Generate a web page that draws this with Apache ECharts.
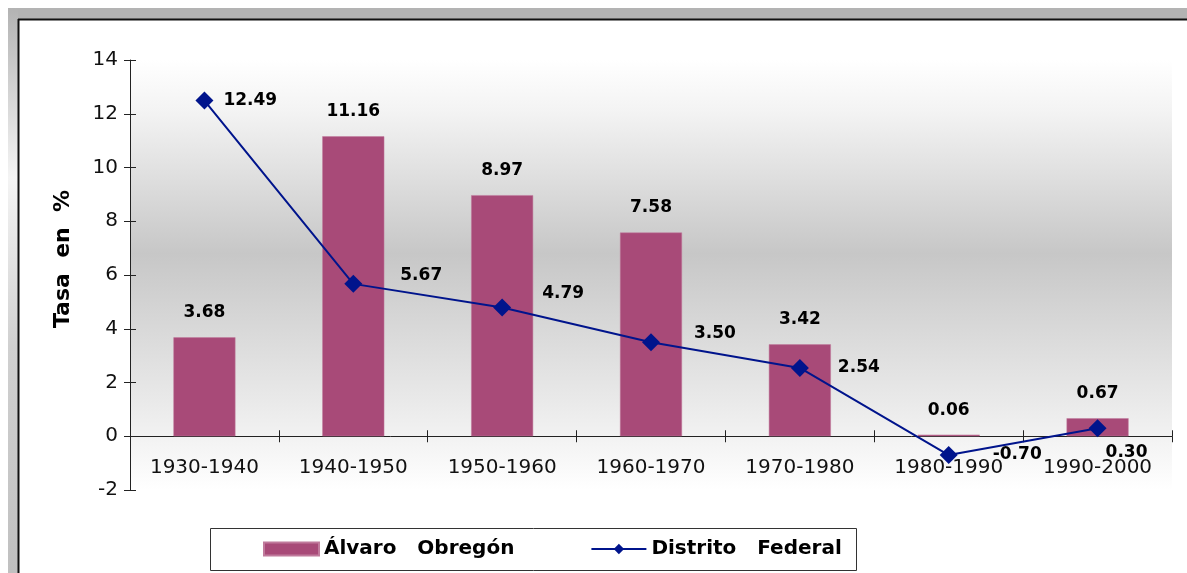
<!DOCTYPE html>
<html>
<head>
<meta charset="utf-8">
<script src="https://cdn.jsdelivr.net/npm/echarts@6/dist/echarts.min.js"></script>
<style>
html,body{margin:0;padding:0;background:#fff;}
#chart{width:1187px;height:573px;}
</style>
</head>
<body>
<div id="chart"></div>
<script>
const categories = ['1930-1940','1940-1950','1950-1960','1960-1970','1970-1980','1980-1990','1990-2000'];
const alvaroObregon = [3.68, 11.16, 8.97, 7.58, 3.42, 0.06, 0.67];
const distritoFederal = [12.49, 5.67, 4.79, 3.50, 2.54, -0.70, 0.30];
const yTicks = {min: -2, max: 14, interval: 2};

// label offsets (styling only) for the line labels
const lineLabelOffsets = [[0,0],[28,-8],[21,-14],[24,-9],[19,0],[25,0],[-11,24]];

const FONT = '"DejaVu Sans", sans-serif';
const chart = echarts.init(document.getElementById('chart'), null, {renderer:'canvas'});

const lineData = distritoFederal.map((v,i)=>({
  value: v,
  label: {offset: lineLabelOffsets[i]}
}));

// pixel distance from grid bottom up to the zero line (grid height 430, range 16)
const zeroOffset = -(0 - yTicks.min) / (yTicks.max - yTicks.min) * 430;

const option = {
  backgroundColor: '#ffffff',
  animation: false,
  graphic: [
    {type:'rect', shape:{x:8,y:8,width:1179,height:11}, style:{fill:'#b3b3b3'}, silent:true, z:0},
    {type:'rect', shape:{x:8,y:8,width:10,height:565}, style:{fill:{type:'linear',x:0,y:0,x2:0,y2:1,colorStops:[
      {offset:0,color:'#b3b3b3'},{offset:0.3,color:'#f4f4f4'},{offset:0.6,color:'#d0d0d0'},{offset:1,color:'#c0c0c0'}]}}, silent:true, z:0},
    {type:'line', shape:{x1:18,y1:19.5,x2:1187,y2:19.5}, style:{stroke:'#111',lineWidth:2}, silent:true, z:1},
    {type:'line', shape:{x1:18.5,y1:19,x2:18.5,y2:573}, style:{stroke:'#111',lineWidth:2}, silent:true, z:1},
    {type:'rect', shape:{x:210.5,y:528.5,width:646,height:42}, style:{fill:'#ffffff',stroke:'#333',lineWidth:1}, silent:true, z:1}
  ],
  grid: {
    left: 130, right: 15, top: 60, bottom: 83,
    show: true,
    borderWidth: 0,
    backgroundColor: {type:'linear',x:0,y:0,x2:0,y2:1,colorStops:[
      {offset:0,color:'#ffffff'},
      {offset:0.12,color:'#f3f3f3'},
      {offset:0.45,color:'#c7c7c7'},
      {offset:0.8,color:'#eaeaea'},
      {offset:1,color:'#ffffff'}
    ]}
  },
  legend: {
    left: 263, top: 539,
    padding: 0,
    itemWidth: 55, itemHeight: 13,
    itemGap: 76,
    textStyle: {fontFamily: FONT, fontSize: 20, fontWeight: 'bold', color:'#000'},
    data: [
      {name:'Álvaro   Obregón', icon:'rect', itemStyle:{color:'#A84A78'}},
      {name:'Distrito   Federal'}
    ]
  },
  xAxis: [{
    type: 'category',
    data: categories,
    boundaryGap: true,
    position: 'bottom',
    offset: zeroOffset,
    axisLine: {show:true, onZero:false, lineStyle:{color:'#222', width:1}},
    axisTick: {show:true, length:6, lineStyle:{color:'#222'}},
    axisLabel: {fontFamily: FONT, fontSize: 20, color:'#111', margin: 22, interval: 0},
    splitLine: {show:false}
  },{
    type: 'category',
    data: categories,
    boundaryGap: true,
    position: 'bottom',
    offset: zeroOffset,
    axisLine: {show:false, onZero:false},
    axisTick: {show:true, inside:true, length:6, lineStyle:{color:'#222'}},
    axisLabel: {show:false},
    splitLine: {show:false}
  }],
  yAxis: [{
    type: 'value',
    min: yTicks.min, max: yTicks.max, interval: yTicks.interval,
    name: 'Tasa  en  %',
    nameLocation: 'middle',
    nameGap: 56,
    nameRotate: 90,
    nameTextStyle: {fontFamily: FONT, fontSize: 22, fontWeight: 'bold', color:'#000', padding:[0,0,0,32]},
    axisLine: {show:true, lineStyle:{color:'#222', width:1}},
    axisTick: {show:true, length:6, lineStyle:{color:'#222'}},
    axisLabel: {fontFamily: FONT, fontSize: 20, color:'#111', margin: 12},
    splitLine: {show:false}
  },{
    type: 'value',
    min: yTicks.min, max: yTicks.max, interval: yTicks.interval,
    position: 'left',
    axisLine: {show:false},
    axisTick: {show:true, inside:true, length:6, lineStyle:{color:'#222'}},
    axisLabel: {show:false},
    splitLine: {show:false}
  }],
  series: [{
    name: 'Álvaro   Obregón',
    type: 'bar',
    data: alvaroObregon,
    barWidth: 62,
    itemStyle: {color: '#A84A78', borderColor:'#c07a9c', borderWidth: 0.5},
    label: {
      show: true, position: 'top', distance: 16,
      fontFamily: FONT, fontSize: 17, fontWeight: 'bold', color:'#000',
      formatter: p => p.value.toFixed(2)
    },
    z: 2
  },{
    name: 'Distrito   Federal',
    type: 'line',
    data: lineData,
    symbol: 'diamond',
    symbolSize: 18,
    lineStyle: {color:'#00148C', width: 2},
    itemStyle: {color:'#00148C'},
    label: {
      show: true, position: 'right', distance: 10,
      fontFamily: FONT, fontSize: 17, fontWeight: 'bold', color:'#000',
      formatter: p => p.value.toFixed(2)
    },
    z: 3
  }]
};
chart.setOption(option);
</script>
</body>
</html>
